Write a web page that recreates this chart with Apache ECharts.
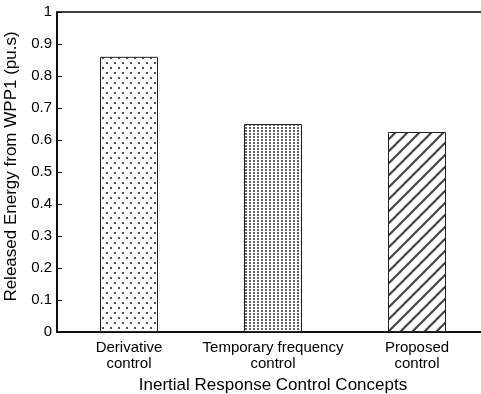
<!DOCTYPE html>
<html>
<head>
<meta charset="utf-8">
<script src="https://cdn.jsdelivr.net/npm/echarts@6/dist/echarts.min.js"></script>
<style>
  html, body { margin: 0; padding: 0; background: #fff; }
  #chart { width: 481px; height: 394px; }
</style>
</head>
<body>
<div id="chart"></div>
<script>
const categories = ["Derivative\ncontrol", "Temporary frequency\ncontrol", "Proposed\ncontrol"];
const energyValues = [0.86, 0.65, 0.625];
const yTicks = [0, 0.1, 0.2, 0.3, 0.4, 0.5, 0.6, 0.7, 0.8, 0.9, 1];

// small canvas tiles used as fill patterns
function makeTile(w, h, draw) {
  const c = document.createElement("canvas");
  c.width = w;
  c.height = h;
  const ctx = c.getContext("2d");
  ctx.fillStyle = "#fff";
  ctx.fillRect(0, 0, w, h);
  draw(ctx);
  return c;
}

const sparseDots = makeTile(8, 10, (ctx) => {
  ctx.fillStyle = "#555";
  ctx.fillRect(2, 2, 2, 2);
  ctx.fillRect(6, 7, 2, 2);
});

const denseDots = makeTile(4, 3, (ctx) => {
  ctx.fillStyle = "#666";
  ctx.fillRect(1, 1, 2, 2);
});

const hatch = makeTile(12, 12, (ctx) => {
  ctx.strokeStyle = "#444";
  ctx.lineWidth = 2.2;
  ctx.beginPath();
  ctx.moveTo(-3, 15); ctx.lineTo(15, -3);
  ctx.moveTo(-9, 9); ctx.lineTo(9, -9);
  ctx.moveTo(3, 21); ctx.lineTo(21, 3);
  ctx.stroke();
});

const fills = [sparseDots, denseDots, hatch];

const chart = echarts.init(document.getElementById("chart"));

const options = {
  animation: false,
  textStyle: { fontFamily: "Liberation Sans, Arial, sans-serif", color: "#000" },
  grid: {
    left: 57,
    right: -8,
    top: 12,
    bottom: 62,
    outerBoundsMode: "none",
    containLabel: false,
    show: true,
    borderColor: "#000",
    borderWidth: 1.5,
  },
  xAxis: {
    type: "category",
    data: categories,
    name: "Inertial Response Control Concepts",
    nameLocation: "middle",
    nameGap: 39,
    nameTextStyle: { fontSize: 17, color: "#000" },
    axisLine: { lineStyle: { color: "#000", width: 1.5 } },
    axisTick: { inside: true, alignWithLabel: true, length: 5, lineStyle: { color: "#000" } },
    axisLabel: { fontSize: 15, color: "#000", lineHeight: 16, margin: 8, interval: 0 },
  },
  yAxis: {
    type: "value",
    min: 0,
    max: 1,
    interval: 0.1,
    name: "Released Energy from WPP1 (pu.s)",
    nameLocation: "middle",
    nameGap: 30,
    nameTextStyle: { fontSize: 17, color: "#000", padding: [0, 0, 0, 11] },
    axisLine: { show: true, lineStyle: { color: "#000", width: 1.5 } },
    axisTick: { show: true, inside: true, length: 5, lineStyle: { color: "#000" } },
    splitLine: { show: false },
    axisLabel: {
      fontSize: 15,
      color: "#000",
      margin: 5,
      formatter: (v) => {
        const t = yTicks.find((k) => Math.abs(k - v) < 1e-6);
        return t === 0 || t === 1 ? String(t) : t.toFixed(1);
      },
    },
  },
  series: [
    {
      type: "bar",
      barWidth: 58,
      data: energyValues.map((v, i) => ({
        value: v,
        itemStyle: {
          color: { image: fills[i], repeat: "repeat" },
          borderColor: "#222",
          borderWidth: 1,
        },
      })),
    },
  ],
};

chart.setOption(options);
</script>
</body>
</html>
